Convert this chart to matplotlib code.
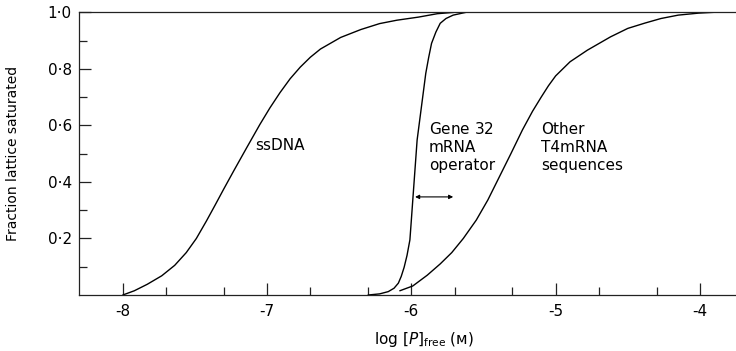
import numpy as np
import matplotlib.pyplot as plt

# curves: log[P]free vs fraction saturated
ss_x = [-8.00, -7.92, -7.83, -7.73, -7.64, -7.56, -7.49, -7.42, -7.36, -7.30,
        -7.23, -7.14, -7.05, -6.98, -6.91, -6.84, -6.77, -6.70, -6.63, -6.49,
        -6.35, -6.22, -6.10, -5.95, -5.82, -5.70]
ss_y = [0.000, 0.015, 0.038, 0.068, 0.105, 0.150, 0.200, 0.262, 0.318, 0.375,
        0.440, 0.522, 0.603, 0.662, 0.716, 0.765, 0.806, 0.841, 0.870, 0.911,
        0.939, 0.960, 0.972, 0.983, 0.995, 1.000]

g32_x = [-6.30, -6.22, -6.16, -6.12, -6.09, -6.07, -6.05, -6.03, -6.01, -6.00,
         -5.99, -5.96, -5.93, -5.90, -5.88, -5.86, -5.83, -5.80, -5.76, -5.71,
         -5.62]
g32_y = [0.000, 0.004, 0.012, 0.024, 0.042, 0.066, 0.098, 0.140, 0.195, 0.265,
         0.336, 0.548, 0.666, 0.784, 0.840, 0.890, 0.930, 0.961, 0.978, 0.990,
         1.000]

t4_x = [-6.08, -5.99, -5.89, -5.80, -5.72, -5.64, -5.55, -5.47, -5.39, -5.31,
        -5.23, -5.16, -5.10, -5.05, -5.00, -4.90, -4.78, -4.62, -4.50, -4.38,
        -4.27, -4.15, -4.01, -3.90]
t4_y = [0.015, 0.032, 0.070, 0.110, 0.150, 0.200, 0.265, 0.336, 0.418, 0.500,
        0.584, 0.650, 0.700, 0.740, 0.775, 0.825, 0.866, 0.913, 0.943, 0.962,
        0.978, 0.990, 0.997, 1.000]

x_major = [-8, -7, -6, -5, -4]
x_minor = [-7.7, -7.3, -6.7, -6.3, -5.7, -5.3, -4.7, -4.3]
y_major = [0.2, 0.4, 0.6, 0.8, 1.0]
y_labels = ['0·2', '0·4', '0·6', '0·8', '1·0']
y_minor = [0.1, 0.3, 0.5, 0.7, 0.9]

plt.rcParams['font.family'] = ['DejaVu Sans']
plt.rcParams['mathtext.fontset'] = 'dejavusans'

fig = plt.figure(figsize=(7.36, 3.51), dpi=100)
ax = fig.add_axes([0.107, 0.1595, 0.893, 0.8055])

for xs, ys in [(ss_x, ss_y), (g32_x, g32_y), (t4_x, t4_y)]:
    ax.plot(xs, ys, color='black', lw=1.0, solid_capstyle='round',
            solid_joinstyle='round')

ax.set_xlim(-8.305, -3.75)
ax.set_ylim(0, 1.0)

ax.spines['right'].set_visible(False)
for s in ['left', 'bottom', 'top']:
    ax.spines[s].set_linewidth(0.9)
    ax.spines[s].set_color('#222222')

ax.set_xticks(x_major)
ax.set_xticklabels([str(v) for v in x_major])
ax.set_xticks(x_minor, minor=True)
ax.set_yticks(y_major)
ax.set_yticklabels(y_labels)
ax.set_yticks(y_minor, minor=True)
ax.tick_params(which='both', direction='in', width=0.9, color='#222222',
               labelsize=11)
ax.tick_params(which='major', length=8.5)
ax.tick_params(which='minor', length=6)
ax.tick_params(axis='x', pad=6.5)
ax.tick_params(axis='y', pad=5)

ax.set_ylabel('Fraction lattice saturated', fontsize=10, va='center')
ax.yaxis.set_label_coords(-0.100, 0.5)
ax.set_xlabel(r'log $[P]_{\mathrm{free}}$ (ᴍ)', fontsize=11, va='center')
ax.xaxis.set_label_coords(0.526, -0.159)

ax.text(-7.08, 0.53, 'ssDNA', fontsize=11, va='center', ha='left')
ax.text(-5.88, 0.523, 'Gene $\\mathit{32}$\nmRNA\noperator', fontsize=11,
        va='center', ha='left', linespacing=1.25)
ax.text(-5.10, 0.523, 'Other\nT4mRNA\nsequences', fontsize=11,
        va='center', ha='left', linespacing=1.25)

ax.annotate('', xy=(-5.71, 0.347), xytext=(-5.974, 0.347),
            arrowprops=dict(arrowstyle='<|-|>', color='black', lw=0.8,
                            mutation_scale=6, shrinkA=0, shrinkB=0))

fig.savefig('out.png', dpi=100)
